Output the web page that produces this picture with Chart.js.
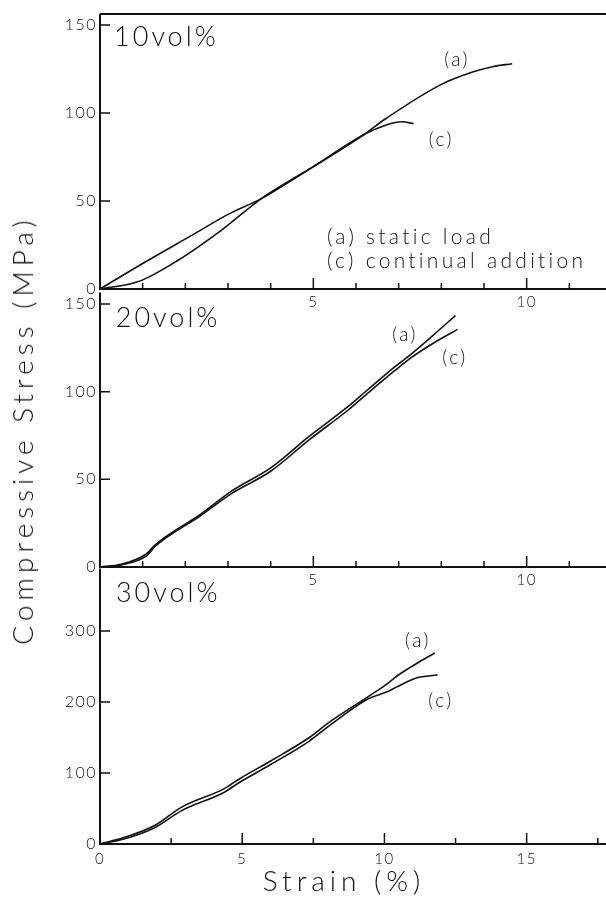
<!DOCTYPE html>
<html>
<head>
<meta charset="utf-8">
<script src="https://cdn.jsdelivr.net/npm/chart.js@4.4.1/dist/chart.umd.min.js"></script>
<style>
  html, body { margin: 0; padding: 0; background: #fff; }
  body { width: 606px; height: 909px; position: relative; overflow: hidden; }
  canvas { position: absolute; left: 0; }
  .ttl { position: absolute; font-family: Lato, "DejaVu Sans", sans-serif; font-weight: 300; color: #111; white-space: nowrap; }
  #ytitle { font-size: 28px; letter-spacing: 5px; left: 22px; top: 430px; transform: translate(-50%, -50%) rotate(-90deg); }
  #xtitle { font-size: 28px; letter-spacing: 5px; left: 344px; top: 880px; transform: translate(-50%, -50%); }
</style>
</head>
<body>
<canvas id="p10" width="620" height="310" style="top:0px"></canvas>
<canvas id="p20" width="620" height="310" style="top:280px"></canvas>
<canvas id="p30" width="620" height="310" style="top:556px"></canvas>
<div class="ttl" id="ytitle">Compressive Stress (MPa)</div>
<div class="ttl" id="xtitle">Strain (%)</div>
<script>
// 10 vol%
const strain10a = [0, 0.9, 1.84, 2.85, 3.05, 3.79, 4.54, 5.0, 6.17, 6.71, 7.98, 8.75, 9.2, 9.66];
const stress10a = [0, 4.2, 16.5, 33.5, 37.3, 51.5, 62.9, 69.5, 87.5, 97.0, 116, 123.4, 126.3, 128];
const strain10c = [0, 1.05, 2.23, 3.0, 3.79, 4.54, 5.0, 6.17, 6.71, 7.08, 7.35];
const stress10c = [0, 15.2, 31.6, 42.4, 51.5, 62.5, 69.5, 87.5, 93.2, 95, 94];
// 20 vol%
const strain20a = [0, 0.5, 1.1, 1.28, 2.37, 3.09, 4.0, 4.9, 5.81, 6.26, 6.9, 7.27, 7.8, 8.33];
const stress20a = [0, 1.5, 7.7, 12.4, 30.3, 43.4, 56.5, 74.5, 91.4, 100.8, 114, 121, 132, 143.4];
const strain20c = [0, 0.5, 1.1, 1.28, 2.37, 3.09, 4.0, 4.9, 5.81, 6.26, 6.9, 7.27, 7.8, 8.38];
const stress20c = [0, 1.2, 6.5, 11.5, 29.5, 42, 54.6, 72.5, 89.4, 98.8, 111.8, 119, 127.5, 135.5];
// 30 vol%
const strain30a = [0, 0.84, 1.92, 2.87, 4.37, 4.91, 6.0, 7.36, 8.04, 9.4, 10.07, 10.42, 11.12, 11.77];
const stress30a = [0, 9, 26, 52, 78, 92, 117, 150, 171, 207, 225, 236, 254, 269];
const strain30c = [0, 0.84, 1.92, 2.87, 4.37, 4.91, 6.0, 7.36, 8.04, 9.4, 10.07, 10.42, 11.12, 11.87];
const stress30c = [0, 7, 23, 47, 73, 87, 112, 145, 166, 204, 214, 221, 234, 238];

// tick labels and tick marks
const yTicks150 = [0, 50, 100, 150];
const yTicks300 = [0, 100, 200, 300];
const xTicksTop = [5, 10];
const xMinorTop = [1, 2, 3, 4, 6, 7, 8, 9, 11];
const xTicksBottom = [0, 5, 10, 15];
const xMinorBottom = [2.5, 7.5, 12.5, 17.5];

const INK = '#111';
const FONT = 'Lato, "DejaVu Sans", sans-serif';
Chart.defaults.font.family = FONT;
Chart.defaults.font.weight = 300;
Chart.defaults.color = INK;

function pts(xs, ys) {
  return xs.map((x, i) => ({ x: x, y: ys[i] }));
}

// frame + inward tick marks + in-plot texts
const framePlugin = {
  id: 'frame',
  beforeDraw(chart) {
    chart.ctx.letterSpacing = '1.5px';
  },
  afterDraw(chart, args, opts) {
    const { ctx, chartArea: a, scales: { x, y } } = chart;
    ctx.save();
    ctx.strokeStyle = INK;
    ctx.lineWidth = 2;
    ctx.beginPath();
    ctx.moveTo(a.left, a.top);
    ctx.lineTo(a.left, a.bottom);
    ctx.lineTo(a.right + 20, a.bottom);
    if (opts.topLine) {
      ctx.moveTo(a.left, a.top);
      ctx.lineTo(a.right + 20, a.top);
    }
    ctx.stroke();
    ctx.lineWidth = 1.5;
    ctx.beginPath();
    opts.xMajor.forEach(v => {
      const px = x.getPixelForValue(v);
      ctx.moveTo(px, a.bottom);
      ctx.lineTo(px, a.bottom - 11);
    });
    opts.xMinor.forEach(v => {
      const px = x.getPixelForValue(v);
      ctx.moveTo(px, a.bottom);
      ctx.lineTo(px, a.bottom - 6);
    });
    opts.yMajor.forEach(v => {
      const py = y.getPixelForValue(v);
      ctx.moveTo(a.left, py);
      ctx.lineTo(a.left + 10, py);
    });
    ctx.stroke();
    ctx.fillStyle = INK;
    ctx.textBaseline = 'middle';
    opts.texts.forEach(t => {
      ctx.font = '300 ' + t.size + 'px ' + FONT;
      ctx.letterSpacing = (t.sp || 0) + 'px';
      ctx.textAlign = t.align || 'center';
      ctx.fillText(t.text, x.getPixelForValue(t.x), y.getPixelForValue(t.y));
    });
    ctx.restore();
  }
};

function makePanel(id, cfg) {
  return new Chart(document.getElementById(id), {
    type: 'line',
    data: {
      datasets: [
        { label: '(a) static load', data: pts(cfg.xa, cfg.ya) },
        { label: '(c) continual addition', data: pts(cfg.xc, cfg.yc) }
      ]
    },
    options: {
      responsive: false,
      animation: false,
      layout: { padding: { top: cfg.padTop, right: 8, left: 0, bottom: 0 } },
      elements: {
        line: { borderColor: INK, borderWidth: 1.6, cubicInterpolationMode: 'monotone', fill: false },
        point: { radius: 0 }
      },
      plugins: {
        legend: { display: false },
        tooltip: { enabled: false },
        frame: cfg.frame
      },
      scales: {
        x: {
          type: 'linear',
          min: 0,
          max: cfg.xMax,
          grid: { display: false, drawTicks: false },
          border: { display: false },
          ticks: { font: { size: 15 }, padding: cfg.xPad, maxRotation: 0 },
          afterBuildTicks: s => { s.ticks = cfg.xTicks.map(v => ({ value: v })); },
          afterFit: s => { s.height = cfg.xHeight; }
        },
        y: {
          min: 0,
          max: cfg.yMax,
          grid: { display: false, drawTicks: false },
          border: { display: false },
          ticks: { font: { size: 16 }, padding: 3 },
          afterBuildTicks: s => { s.ticks = cfg.yTicks.map(v => ({ value: v })); },
          afterFit: s => { s.width = 100; }
        }
      }
    },
    plugins: [framePlugin]
  });
}

makePanel('p10', {
  xa: strain10a, ya: stress10a, xc: strain10c, yc: stress10c,
  xMax: 12, yMax: 156.25, xTicks: xTicksTop, yTicks: yTicks150,
  padTop: 14, xHeight: 21, xPad: 4,
  frame: {
    topLine: true, xMajor: xTicksTop, xMinor: xMinorTop, yMajor: yTicks150,
    texts: [
      { text: '10vol%', x: 0.33, y: 143, size: 27, sp: 3, align: 'left' },
      { text: '(a)', x: 8.37, y: 130, size: 19, sp: 2.5 },
      { text: '(c)', x: 8.0, y: 84.6, size: 19, sp: 2.5 },
      { text: '(a) static load', x: 5.32, y: 29.5, size: 21, sp: 3.3, align: 'left' },
      { text: '(c) continual addition', x: 5.32, y: 15.9, size: 21, sp: 3.3, align: 'left' }
    ]
  }
});

makePanel('p20', {
  xa: strain20a, ya: stress20a, xc: strain20c, yc: stress20c,
  xMax: 12, yMax: 156.5, xTicks: xTicksTop, yTicks: yTicks150,
  padTop: 9, xHeight: 23, xPad: 4,
  frame: {
    topLine: false, xMajor: xTicksTop, xMinor: xMinorTop, yMajor: yTicks150,
    texts: [
      { text: '20vol%', x: 0.37, y: 142, size: 27, sp: 3, align: 'left' },
      { text: '(a)', x: 7.15, y: 132.5, size: 19, sp: 2.5 },
      { text: '(c)', x: 8.32, y: 119.5, size: 19, sp: 2.5 }
    ]
  }
});

makePanel('p30', {
  xa: strain30a, ya: stress30a, xc: strain30c, yc: stress30c,
  xMax: 18, yMax: 388, xTicks: xTicksBottom, yTicks: yTicks300,
  padTop: 11, xHeight: 22, xPad: 6,
  frame: {
    topLine: false, xMajor: [5, 10, 15], xMinor: xMinorBottom, yMajor: yTicks300,
    texts: [
      { text: '30vol%', x: 0.56, y: 353, size: 27, sp: 3, align: 'left' },
      { text: '(a)', x: 11.18, y: 285.7, size: 19, sp: 2.5 },
      { text: '(c)', x: 11.99, y: 201.7, size: 19, sp: 2.5 }
    ]
  }
});
</script>
</body>
</html>
